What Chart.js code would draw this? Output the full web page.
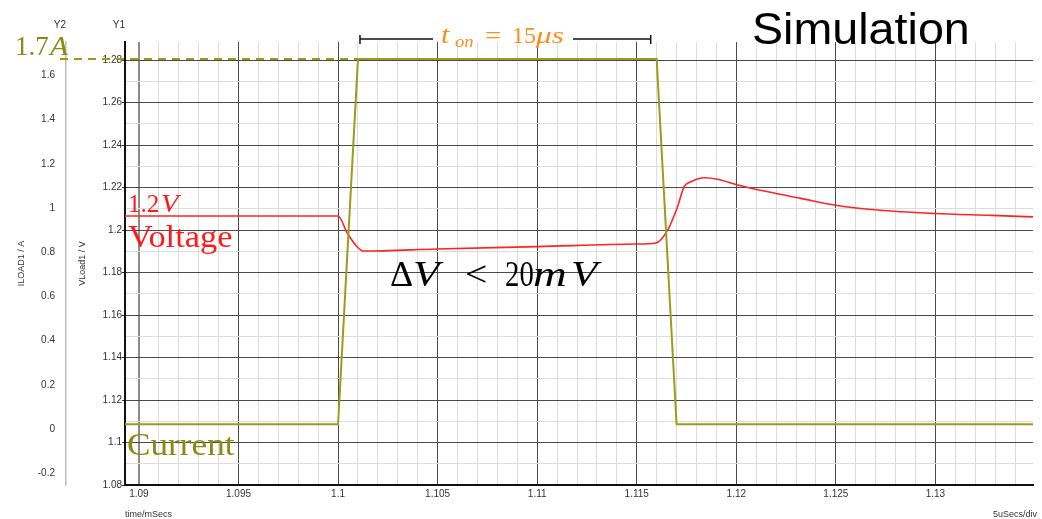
<!DOCTYPE html>
<html>
<head>
<meta charset="utf-8">
<script src="https://cdn.jsdelivr.net/npm/chart.js@4"></script>
<style>
html, body { margin: 0; padding: 0; background: #fff; }
</style>
</head>
<body>
<canvas id="sim-chart" width="1042" height="519"></canvas>
<script>
// load voltage (Y1, V)
const timeV = [1.0893, 1.1, 1.10046, 1.10097, 1.10127, 1.105, 1.11, 1.115, 1.11596, 1.11655, 1.11705, 1.11738, 1.11772, 1.11839, 1.11906, 1.12007, 1.12158, 1.12325, 1.12492, 1.12711, 1.12994, 1.13281, 1.1349];
const voltV = [1.2066, 1.2066, 1.1986, 1.192, 1.1901, 1.1911, 1.1922, 1.1934, 1.1939, 1.2, 1.211, 1.2204, 1.2227, 1.2246, 1.2239, 1.2212, 1.218, 1.2149, 1.2118, 1.2094, 1.2078, 1.2069, 1.2062];

// load current (Y2, A)
const timeI = [1.0893, 1.1, 1.101, 1.116, 1.117, 1.1349];
const currI = [0.022, 0.022, 1.674, 1.674, 0.022, 0.022];

// axis ranges and steps
const xRange = [1.0893, 1.1349];
const y1Range = [1.08, 1.2885];
const y2Range = [-0.253, 1.751];
const xStep = 0.001;   // 1 us minor divisions, label every 5
const y1Step = 0.01;   // label every 0.02
const y2Step = 0.2;

// t_on markers
const tOnStart = 1.1011;
const tOnEnd = 1.1157;

const tickFont = { family: "'Liberation Sans Narrow', 'Liberation Sans', Arial", size: 10 };
const olive = '#8a8a10';

function toPts(xs, ys) {
    return xs.map((x, i) => ({ x: x, y: ys[i] }));
}

function isMajorX(v) { return Math.round(v * 1000) % 5 === 0; }
function isMajorY(v) { return Math.round(v * 100) % 2 === 0; }

// draw a row of text pieces, s = horizontal stretch of each piece
function drawPieces(ctx, pieces, baseline, color) {
    ctx.fillStyle = color;
    ctx.textAlign = 'left';
    ctx.textBaseline = 'alphabetic';
    pieces.forEach(p => {
        ctx.font = p.font;
        ctx.save();
        ctx.translate(p.x, baseline + (p.dy || 0));
        ctx.scale(p.s || 1, 1);
        ctx.fillText(p.t, 0, 0);
        ctx.restore();
    });
}

const annotations = {
    id: 'annotations',
    afterDatasetsDraw(chart) {
        const ctx = chart.ctx;
        const x = chart.scales.x, y1 = chart.scales.y1, y2 = chart.scales.y2;
        const serif = "'Liberation Serif', 'Times New Roman', serif";
        ctx.save();

        // axis ids above the axes
        ctx.font = "10px 'Liberation Sans Narrow', 'Liberation Sans', Arial";
        ctx.fillStyle = '#333';
        ctx.textAlign = 'right';
        ctx.textBaseline = 'middle';
        ctx.fillText('Y2', y2.right, 25);
        ctx.fillText('Y1', y1.right, 25);
        ctx.font = "9px 'Liberation Sans Narrow', 'Liberation Sans', Arial";
        ctx.fillText('5uSecs/div', chart.width - 5, 515);

        // 1.7A dashed marker
        const yTop = y2.getPixelForValue(currI[2]);
        ctx.strokeStyle = '#9a9a1a';
        ctx.lineWidth = 2;
        ctx.setLineDash([8, 6]);
        ctx.beginPath();
        ctx.moveTo(y2.right - 6, yTop);
        ctx.lineTo(x.getPixelForValue(timeI[2]), yTop);
        ctx.stroke();
        ctx.setLineDash([]);
        drawPieces(ctx, [
            { t: '1.7', font: '27px ' + serif, x: 15 },
            { t: 'A', font: 'italic 27px ' + serif, x: 50, s: 1.1 }
        ], 55, olive);

        // t_on dimension line
        const xa = x.getPixelForValue(tOnStart), xb = x.getPixelForValue(tOnEnd);
        ctx.strokeStyle = '#111';
        ctx.lineWidth = 1.5;
        ctx.beginPath();
        ctx.moveTo(xa, 39); ctx.lineTo(433, 39);
        ctx.moveTo(573, 39); ctx.lineTo(xb, 39);
        ctx.moveTo(xa, 35); ctx.lineTo(xa, 44);
        ctx.moveTo(xb, 35); ctx.lineTo(xb, 44);
        ctx.stroke();
        drawPieces(ctx, [
            { t: 't', font: 'italic 25px ' + serif, x: 441, s: 1.2 },
            { t: 'on', font: 'italic 17px ' + serif, x: 455, dy: 4, s: 1.1 },
            { t: '=', font: '24px ' + serif, x: 485, s: 1.2 },
            { t: '15', font: '24px ' + serif, x: 512 },
            { t: '\u03bcs', font: 'italic 24px ' + serif, x: 536, s: 1.3 }
        ], 43, '#ff8c1a');

        // Simulation title
        drawPieces(ctx, [
            { t: 'Simulation', font: "44px 'Liberation Sans', Arial, sans-serif", x: 752, s: 1.06 }
        ], 44, '#000');

        // voltage labels
        drawPieces(ctx, [
            { t: '1.2', font: '25px ' + serif, x: 128 },
            { t: 'V', font: 'italic 25px ' + serif, x: 161, s: 1.15 }
        ], 212, '#ff1a1a');
        drawPieces(ctx, [
            { t: 'Voltage', font: '31px ' + serif, x: 128, s: 1.11 }
        ], 247, '#ff1a1a');

        // delta V
        drawPieces(ctx, [
            { t: '\u0394', font: '36px ' + serif, x: 390 },
            { t: 'V', font: 'italic 36px ' + serif, x: 413, s: 1.2 },
            { t: '<', font: '36px ' + serif, x: 465, s: 1.1 },
            { t: '20', font: '36px ' + serif, x: 505, s: 0.8 },
            { t: 'm', font: 'italic 36px ' + serif, x: 533, s: 1.3 },
            { t: 'V', font: 'italic 36px ' + serif, x: 571, s: 1.2 }
        ], 286, '#000');

        // current label
        drawPieces(ctx, [
            { t: 'Current', font: '32px ' + serif, x: 127, s: 1.1 }
        ], 455, olive);

        ctx.restore();
    }
};

const ctx = document.getElementById('sim-chart').getContext('2d');
const simChart = new Chart(ctx, {
    type: 'scatter',
    data: {
        datasets: [{
            label: 'ILOAD1',
            data: toPts(timeI, currI),
            yAxisID: 'y2',
            showLine: true,
            borderColor: '#9c9c1c',
            borderWidth: 2,
            pointRadius: 0,
            tension: 0
        }, {
            label: 'VLoad1',
            data: toPts(timeV, voltV),
            yAxisID: 'y1',
            showLine: true,
            borderColor: '#ff2424',
            borderWidth: 1.6,
            pointRadius: 0,
            cubicInterpolationMode: 'monotone'
        }]
    },
    options: {
        responsive: false,
        animation: false,
        layout: { padding: { left: 0, top: 42, right: 9, bottom: 0 } },
        plugins: { legend: { display: false }, tooltip: { enabled: false } },
        scales: {
            x: {
                type: 'linear',
                min: xRange[0],
                max: xRange[1],
                afterFit: s => { s.height = 34; },
                ticks: {
                    stepSize: xStep,
                    includeBounds: false,
                    autoSkip: false,
                    maxRotation: 0,
                    padding: 3,
                    font: tickFont,
                    color: '#333',
                    callback: v => isMajorX(v) ? String(Number(v.toFixed(3))) : ''
                },
                grid: {
                    color: c => isMajorX(c.tick.value) ? (Math.abs(c.tick.value - 1.09) < 1e-6 ? '#8c8c8c' : '#4a4a4a') : '#dcdcdc',
                    lineWidth: c => Math.abs(c.tick.value - 1.09) < 1e-6 ? 2 : 1,
                    drawTicks: false
                },
                border: { color: '#111', width: 2 },
                title: {
                    display: true,
                    text: 'time/mSecs',
                    align: 'start',
                    color: '#333',
                    font: { family: "'Liberation Sans Narrow', 'Liberation Sans', Arial", size: 9, lineHeight: 1 },
                    padding: 0
                }
            },
            y1: {
                type: 'linear',
                position: 'left',
                weight: 0,
                min: y1Range[0],
                max: y1Range[1],
                afterFit: s => { s.width = 59; },
                ticks: {
                    stepSize: y1Step,
                    includeBounds: false,
                    autoSkip: false,
                    padding: 0,
                    font: tickFont,
                    color: '#333',
                    callback: v => isMajorY(v) ? String(Number(v.toFixed(2))) : ''
                },
                grid: {
                    color: c => isMajorY(c.tick.value) ? '#4a4a4a' : '#dcdcdc',
                    tickLength: 3,
                    tickColor: c => isMajorY(c.tick.value) ? '#333' : 'rgba(0,0,0,0)'
                },
                border: { color: '#111', width: 2 },
                title: {
                    display: true,
                    text: 'VLoad1 / V',
                    color: '#333',
                    font: { family: "'Liberation Sans Narrow', 'Liberation Sans', Arial", size: 9 },
                    padding: { top: 11, bottom: 0 }
                }
            },
            y2: {
                type: 'linear',
                position: 'left',
                weight: 1,
                min: y2Range[0],
                max: y2Range[1],
                afterFit: s => { s.width = 66; },
                ticks: {
                    stepSize: y2Step,
                    includeBounds: false,
                    autoSkip: false,
                    padding: 3,
                    font: tickFont,
                    color: '#333',
                    callback: v => String(Number(v.toFixed(1)))
                },
                grid: { display: false },
                border: { color: '#bdbdbd', width: 1.5 },
                title: {
                    display: true,
                    text: 'ILOAD1 / A',
                    color: '#333',
                    font: { family: "'Liberation Sans Narrow', 'Liberation Sans', Arial", size: 9 },
                    padding: { top: 16, bottom: 0 }
                }
            }
        }
    },
    plugins: [annotations]
});
</script>
</body>
</html>
